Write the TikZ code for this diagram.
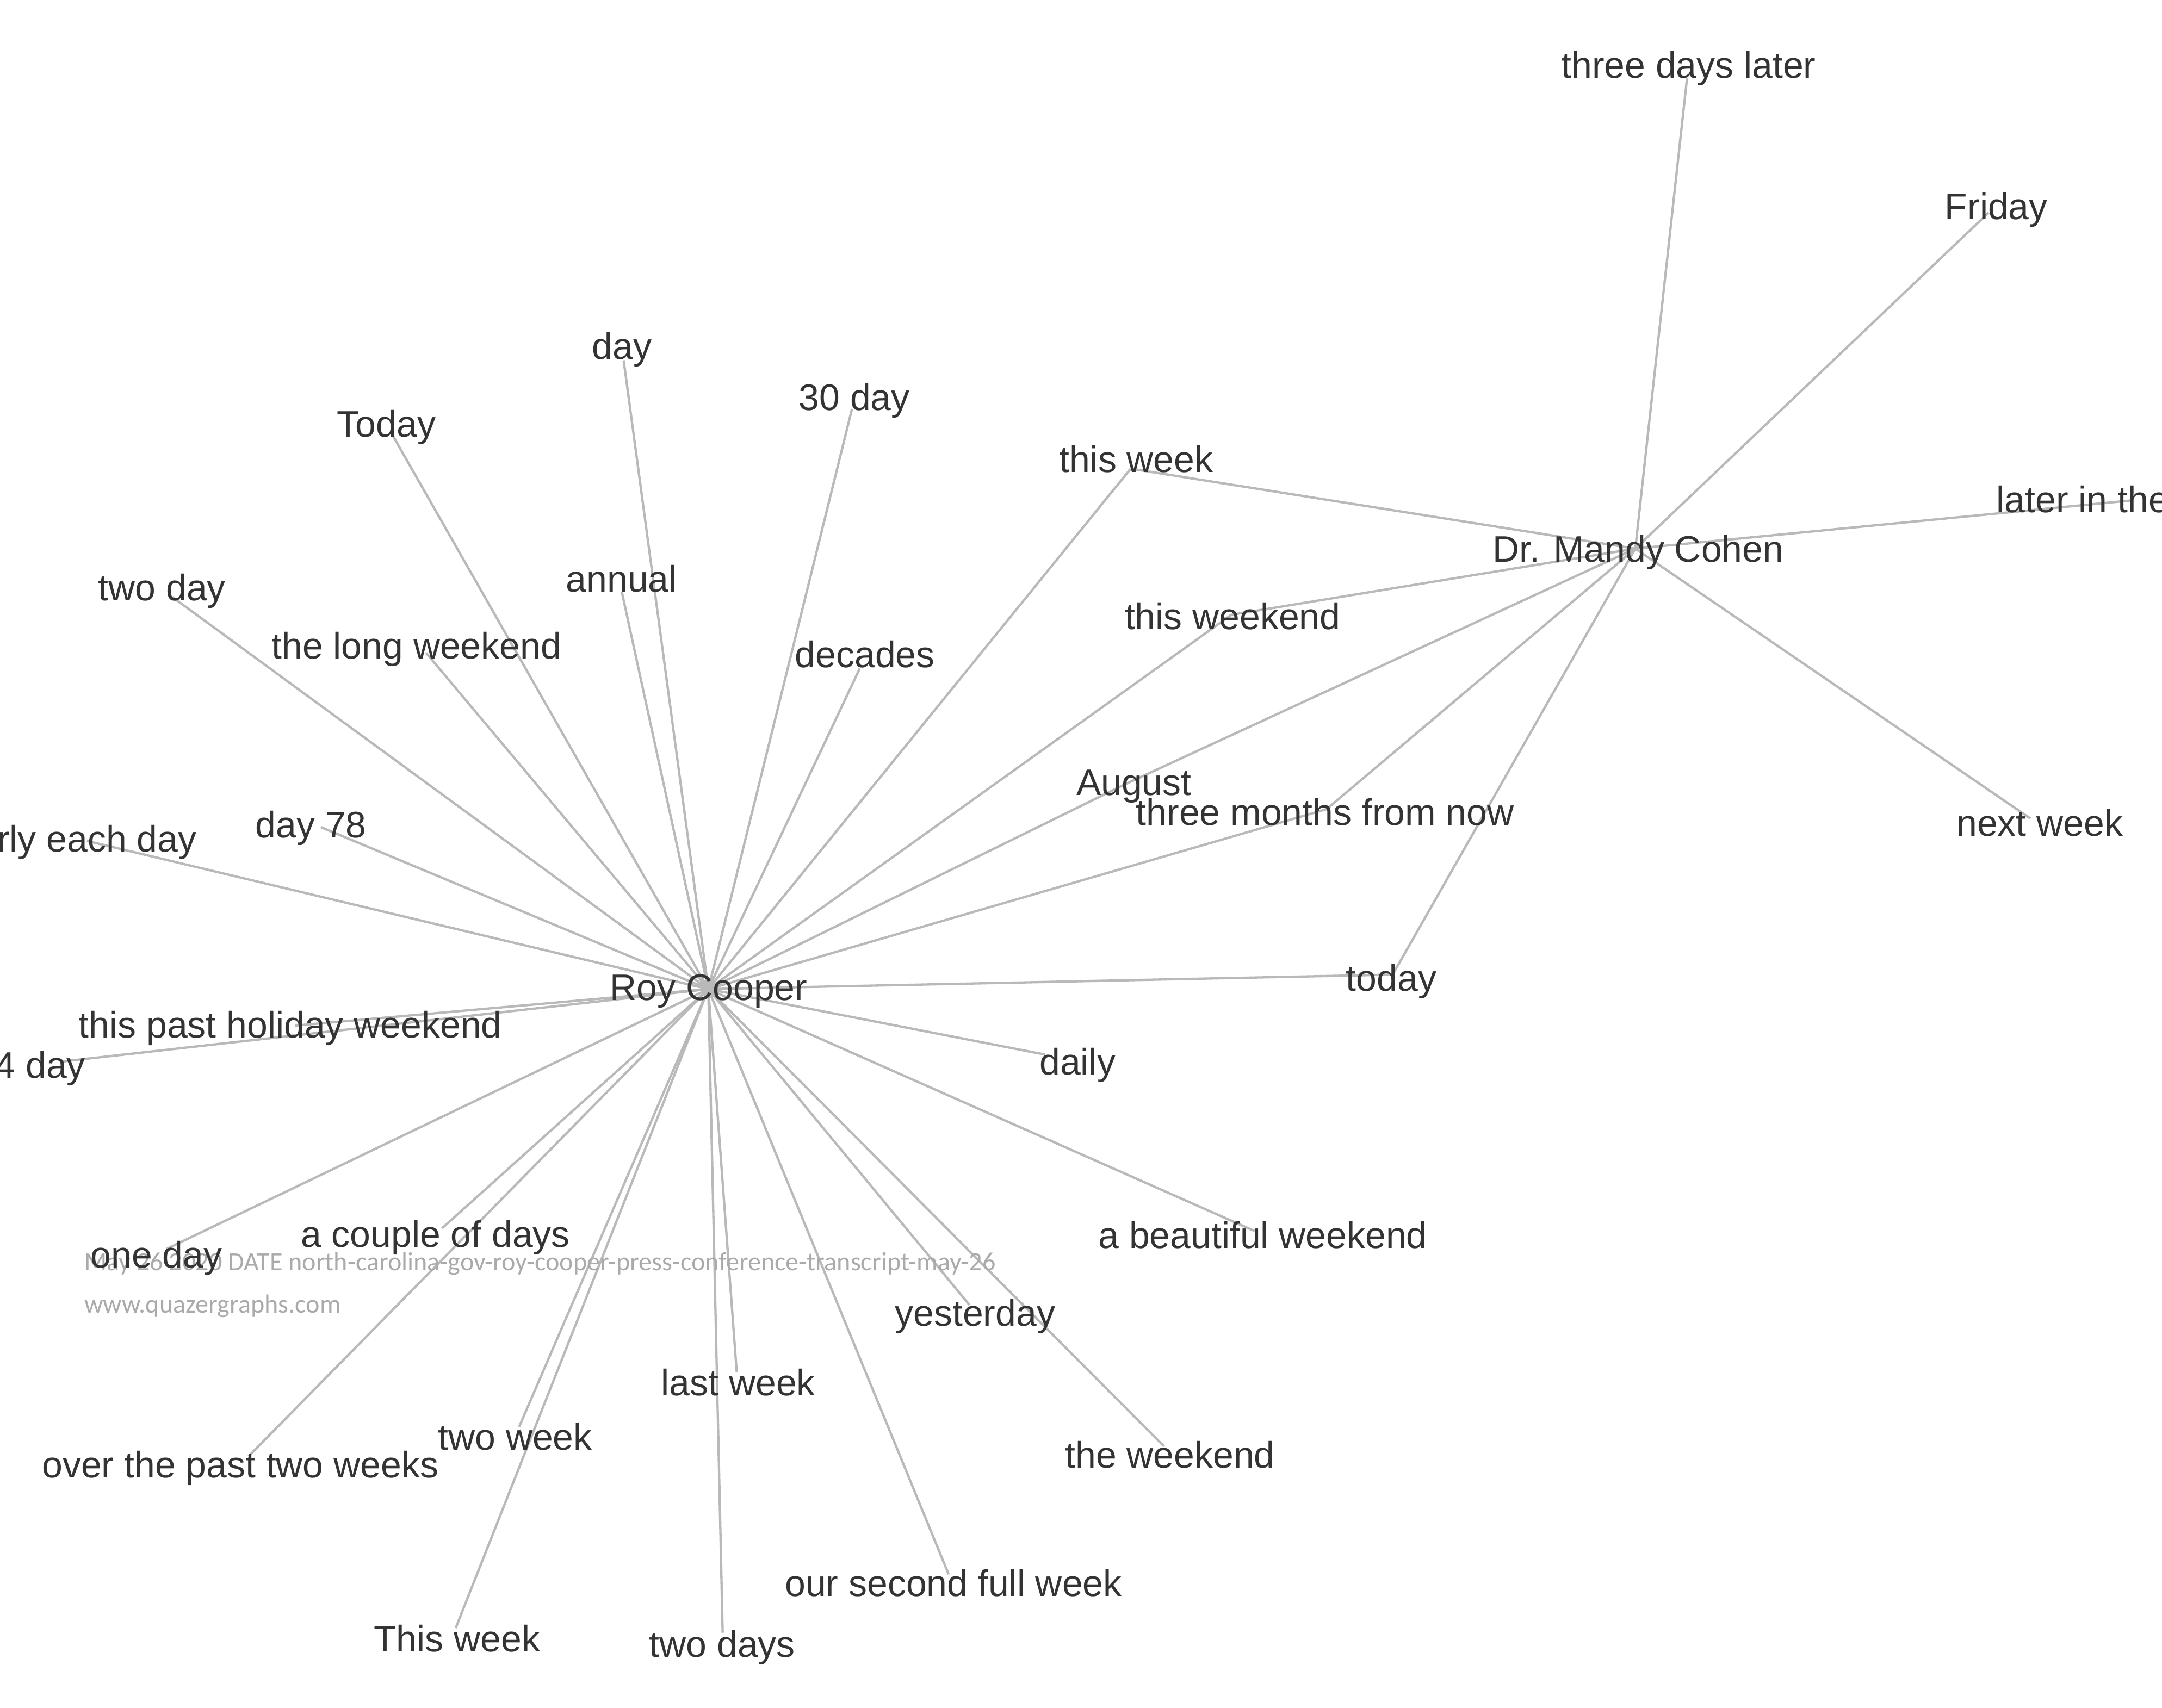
\documentclass[tikz,border=0pt]{standalone}
\usepackage{fontspec}
\setmainfont{Liberation Sans}
\newfontfamily\stampfont{Carlito}
\definecolor{edgegray}{RGB}{185,185,185}
\definecolor{textgray}{RGB}{51,51,51}
\definecolor{stampgray}{RGB}{170,170,170}
\tikzset{
	lbl/.style={anchor=base, inner sep=0pt, text=textgray, font=\fontsize{26.8}{30}\selectfont},
	link/.style={edgegray, line width=1.7pt},
	stamp/.style={anchor=base west, inner sep=0pt, text=stampgray, font=\stampfont\fontsize{19}{21}\selectfont}
}
\begin{document}
\begin{tikzpicture}[x=1pt, y=-1pt]

	\useasboundingbox (0,0) rectangle (1568,1239);
	\fill[white] (0,0) rectangle (1568,1239);
	\clip (0,0) rectangle (1568,1239);

	\coordinate (royPt) at (513.7,717.5);
	\coordinate (cohenPt) at (1186,398);

	\coordinate (pDay) at (452.3,261.4);
	\coordinate (pTodayCap) at (285.4,316.9);
	\coordinate (pThirtyDay) at (617.9,296.6);
	\coordinate (pAnnual) at (451,429.5);
	\coordinate (pTwoDay) at (125,433.1);
	\coordinate (pLongWeekend) at (309,473.6);
	\coordinate (pDecades) at (623.5,485);
	\coordinate (pThisWeek) at (820,340);
	\coordinate (pThisWeekend) at (893,446);
	\coordinate (pAugust) at (814.5,569.6);
	\coordinate (pThreeMonths) at (962,587);
	\coordinate (pToday) at (1010,707);
	\coordinate (pNearlyEach) at (63,610);
	\coordinate (pDaySeventyEight) at (232.7,600);
	\coordinate (pHoliday) at (213.9,744);
	\coordinate (pFourteenDay) at (45.3,770);
	\coordinate (pDaily) at (758,765);
	\coordinate (pBeautiful) at (909.9,893);
	\coordinate (pOneDay) at (120.8,906);
	\coordinate (pCouple) at (320.6,891);
	\coordinate (pPastTwoWeeks) at (180.2,1056.5);
	\coordinate (pTwoWeek) at (376.5,1035);
	\coordinate (pThisWeekCap) at (330.5,1181);
	\coordinate (pLastWeek) at (534.3,995.3);
	\coordinate (pTwoDays) at (524.1,1184.4);
	\coordinate (pSecondWeek) at (688,1142);
	\coordinate (pYesterday) at (703.1,946.6);
	\coordinate (pTheWeekend) at (844.2,1049.2);
	\coordinate (pThreeDaysLater) at (1223.5,56.8);
	\coordinate (pFriday) at (1442.3,154.2);
	\coordinate (pLaterIn) at (1547,362.9);
	\coordinate (pNextWeek) at (1472.5,593.7);

	\draw[link] (royPt) -- (pDay);
	\draw[link] (royPt) -- (pTodayCap);
	\draw[link] (royPt) -- (pThirtyDay);
	\draw[link] (royPt) -- (pAnnual);
	\draw[link] (royPt) -- (pTwoDay);
	\draw[link] (royPt) -- (pLongWeekend);
	\draw[link] (royPt) -- (pDecades);
	\draw[link] (royPt) -- (pThisWeek);
	\draw[link] (royPt) -- (pThisWeekend);
	\draw[link] (royPt) -- (pAugust);
	\draw[link] (royPt) -- (pThreeMonths);
	\draw[link] (royPt) -- (pToday);
	\draw[link] (royPt) -- (pNearlyEach);
	\draw[link] (royPt) -- (pDaySeventyEight);
	\draw[link] (royPt) -- (pHoliday);
	\draw[link] (royPt) -- (pFourteenDay);
	\draw[link] (royPt) -- (pDaily);
	\draw[link] (royPt) -- (pBeautiful);
	\draw[link] (royPt) -- (pOneDay);
	\draw[link] (royPt) -- (pCouple);
	\draw[link] (royPt) -- (pPastTwoWeeks);
	\draw[link] (royPt) -- (pTwoWeek);
	\draw[link] (royPt) -- (pThisWeekCap);
	\draw[link] (royPt) -- (pLastWeek);
	\draw[link] (royPt) -- (pTwoDays);
	\draw[link] (royPt) -- (pSecondWeek);
	\draw[link] (royPt) -- (pYesterday);
	\draw[link] (royPt) -- (pTheWeekend);

	\draw[link] (cohenPt) -- (pThisWeek);
	\draw[link] (cohenPt) -- (pThisWeekend);
	\draw[link] (cohenPt) -- (pAugust);
	\draw[link] (cohenPt) -- (pThreeMonths);
	\draw[link] (cohenPt) -- (pToday);
	\draw[link] (cohenPt) -- (pThreeDaysLater);
	\draw[link] (cohenPt) -- (pFriday);
	\draw[link] (cohenPt) -- (pLaterIn);
	\draw[link] (cohenPt) -- (pNextWeek);

	\node[stamp] (stampDate) at (61,921.5) {May 26 2020 DATE north-carolina-gov-roy-cooper-press-conference-transcript-may-26};
	\node[stamp] (stampSite) at (61,952.5) {www.quazergraphs.com};

	\node[lbl] (roy) at (514,725.8) {Roy Cooper};
	\node[lbl] (cohen) at (1188,407.6) {Dr. Mandy Cohen};

	\node[lbl] (day) at (451,260.5) {day};
	\node[lbl] (todayCap) at (280.3,316.9) {Today};
	\node[lbl] (thirtyDay) at (619.6,297.8) {30 day};
	\node[lbl] (annual) at (450.8,429.5) {annual};
	\node[lbl] (twoDay) at (117.5,435.7) {two day};
	\node[lbl] (longWeekend) at (302.1,478) {the long weekend};
	\node[lbl] (decades) at (627.3,484.1) {decades};
	\node[lbl] (thisWeek) at (824,342.5) {this week};
	\node[lbl] (thisWeekend) at (894,456.4) {this weekend};
	\node[lbl] (august) at (822.4,577) {August};
	\node[lbl] (threeMonths) at (961,598.4) {three months from now};
	\node[lbl] (today) at (1009,719) {today};
	\node[lbl] (nearlyEach) at (48,618) {nearly each day};
	\node[lbl] (daySeventyEight) at (225.5,607.5) {day 78};
	\node[lbl] (holiday) at (210.6,753) {this past holiday weekend};
	\node[lbl] (fourteenDay) at (21.7,782) {14 day};
	\node[lbl] (daily) at (781.5,779.5) {daily};
	\node[lbl] (beautiful) at (915.8,905.3) {a beautiful weekend};
	\node[lbl] (oneDay) at (113.5,919.5) {one day};
	\node[lbl] (couple) at (315.8,904.8) {a couple of days};
	\node[lbl] (pastTwoWeeks) at (174.3,1072) {over the past two weeks};
	\node[lbl] (twoWeek) at (373.6,1052) {two week};
	\node[lbl] (thisWeekCap) at (331.5,1198) {This week};
	\node[lbl] (lastWeek) at (535.4,1012.3) {last week};
	\node[lbl] (twoDays) at (523.8,1202) {two days};
	\node[lbl] (secondWeek) at (691.5,1158) {our second full week};
	\node[lbl] (yesterday) at (707.2,962) {yesterday};
	\node[lbl] (theWeekend) at (848.5,1065) {the weekend};
	\node[lbl] (threeDaysLater) at (1224.6,56.8) {three days later};
	\node[lbl] (friday) at (1447.8,159.3) {Friday};
	\node[lbl] (laterIn) at (1545.5,371.8) {later in the week};
	\node[lbl] (nextWeek) at (1479.3,606.6) {next week};

\end{tikzpicture}
\end{document}
